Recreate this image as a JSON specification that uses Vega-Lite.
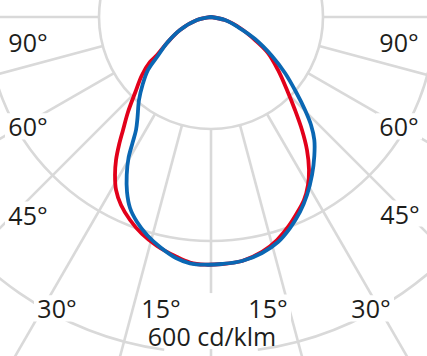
{
  "$schema": "https://vega.github.io/schema/vega-lite/v6.json",
  "width": 427,
  "height": 356,
  "padding": 0,
  "autosize": {"type": "none"},
  "background": "white",
  "config": {"view": {"stroke": null}},
  "datasets": {
    "circles": [
      {"r": 200, "a1": 0, "a2": 360},
      {"r": 400, "a1": 0, "a2": 360},
      {"r": 600, "a1": -172, "a2": 172}
    ],
    "spokes": [
      {"angle": 0, "x1": 0, "y1": -200, "x2": 0, "y2": -493},
      {"angle": 0, "x1": 0, "y1": -591, "x2": 0, "y2": -900},
      {"angle": 15, "x1": 51.8, "y1": -193.2, "x2": 232.9, "y2": -869.3},
      {"angle": -15, "x1": -51.8, "y1": -193.2, "x2": -232.9, "y2": -869.3},
      {"angle": 30, "x1": 100, "y1": -173.2, "x2": 450, "y2": -779.4},
      {"angle": -30, "x1": -100, "y1": -173.2, "x2": -450, "y2": -779.4},
      {"angle": 45, "x1": 141.4, "y1": -141.4, "x2": 636.4, "y2": -636.4},
      {"angle": -45, "x1": -141.4, "y1": -141.4, "x2": -636.4, "y2": -636.4},
      {"angle": 60, "x1": 173.2, "y1": -100, "x2": 779.4, "y2": -450},
      {"angle": -60, "x1": -173.2, "y1": -100, "x2": -779.4, "y2": -450},
      {"angle": 75, "x1": 193.2, "y1": -51.8, "x2": 869.3, "y2": -232.9},
      {"angle": -75, "x1": -193.2, "y1": -51.8, "x2": -869.3, "y2": -232.9},
      {"angle": 90, "x1": 200, "y1": 0, "x2": 900, "y2": 0},
      {"angle": -90, "x1": -200, "y1": 0, "x2": -900, "y2": 0}
    ],
    "red": [
      {"i": 0, "x": 0, "y": 0},
      {"i": 1, "x": 25, "y": -5.4},
      {"i": 2, "x": 51.8, "y": -19.6},
      {"i": 3, "x": 78.6, "y": -41.1},
      {"i": 4, "x": 101.8, "y": -64.3},
      {"i": 5, "x": 119.6, "y": -94.6},
      {"i": 6, "x": 135.7, "y": -130.4},
      {"i": 7, "x": 150, "y": -166.1},
      {"i": 8, "x": 162.5, "y": -201.8},
      {"i": 9, "x": 171.4, "y": -237.5},
      {"i": 10, "x": 175, "y": -273.2},
      {"i": 11, "x": 173.2, "y": -300},
      {"i": 12, "x": 166.1, "y": -326.8},
      {"i": 13, "x": 153.6, "y": -350},
      {"i": 14, "x": 137.5, "y": -375},
      {"i": 15, "x": 117.9, "y": -398.2},
      {"i": 16, "x": 91.1, "y": -419.6},
      {"i": 17, "x": 55.4, "y": -435.7},
      {"i": 18, "x": 19.6, "y": -441.1},
      {"i": 19, "x": -10.7, "y": -442.3},
      {"i": 20, "x": -37.5, "y": -438.5},
      {"i": 21, "x": -64.3, "y": -426.8},
      {"i": 22, "x": -96.4, "y": -408.9},
      {"i": 23, "x": -123.2, "y": -387.5},
      {"i": 24, "x": -144.6, "y": -362.5},
      {"i": 25, "x": -160.7, "y": -335.7},
      {"i": 26, "x": -169.6, "y": -308.9},
      {"i": 27, "x": -171.4, "y": -282.1},
      {"i": 28, "x": -169.6, "y": -255.4},
      {"i": 29, "x": -164.3, "y": -228.6},
      {"i": 30, "x": -157.1, "y": -201.8},
      {"i": 31, "x": -148.2, "y": -169.6},
      {"i": 32, "x": -135.7, "y": -135.7},
      {"i": 33, "x": -123.2, "y": -103.6},
      {"i": 34, "x": -108.9, "y": -80.4},
      {"i": 35, "x": -96.4, "y": -67.9},
      {"i": 36, "x": -78.6, "y": -46.4},
      {"i": 37, "x": -55.4, "y": -23.2},
      {"i": 38, "x": -25, "y": -5.4},
      {"i": 39, "x": 0, "y": 0}
    ],
    "blue": [
      {"i": 0, "x": 0, "y": 0},
      {"i": 1, "x": 25, "y": -5.4},
      {"i": 2, "x": 48.2, "y": -17.9},
      {"i": 3, "x": 78.6, "y": -39.3},
      {"i": 4, "x": 108.9, "y": -69.6},
      {"i": 5, "x": 132.1, "y": -100},
      {"i": 6, "x": 151.8, "y": -133.9},
      {"i": 7, "x": 167.9, "y": -166.1},
      {"i": 8, "x": 178.6, "y": -192.9},
      {"i": 9, "x": 184.5, "y": -219.6},
      {"i": 10, "x": 184.5, "y": -248},
      {"i": 11, "x": 180.4, "y": -282.1},
      {"i": 12, "x": 171.4, "y": -317.9},
      {"i": 13, "x": 158.9, "y": -348.2},
      {"i": 14, "x": 141.1, "y": -376.8},
      {"i": 15, "x": 119.6, "y": -401.8},
      {"i": 16, "x": 91.1, "y": -421.4},
      {"i": 17, "x": 55.4, "y": -435.7},
      {"i": 18, "x": 19.6, "y": -441.1},
      {"i": 19, "x": -10.7, "y": -442.3},
      {"i": 20, "x": -37.5, "y": -439.8},
      {"i": 21, "x": -62.5, "y": -430.4},
      {"i": 22, "x": -91.1, "y": -410.7},
      {"i": 23, "x": -114.3, "y": -389.3},
      {"i": 24, "x": -132.1, "y": -366.1},
      {"i": 25, "x": -144.6, "y": -341.1},
      {"i": 26, "x": -150, "y": -312.5},
      {"i": 27, "x": -150.5, "y": -282.1},
      {"i": 28, "x": -147.3, "y": -251.8},
      {"i": 29, "x": -140.2, "y": -225},
      {"i": 30, "x": -133.9, "y": -201.8},
      {"i": 31, "x": -131.3, "y": -180.4},
      {"i": 32, "x": -128.6, "y": -148.2},
      {"i": 33, "x": -122.3, "y": -121.4},
      {"i": 34, "x": -112.5, "y": -94.6},
      {"i": 35, "x": -96.4, "y": -71.4},
      {"i": 36, "x": -78.6, "y": -46.4},
      {"i": 37, "x": -55.4, "y": -23.2},
      {"i": 38, "x": -25, "y": -5.4},
      {"i": 39, "x": 0, "y": 0}
    ],
    "labels": [
      {"t": "90°", "x": -326.8, "y": -45.5},
      {"t": "90°", "x": 335.7, "y": -45.5},
      {"t": "60°", "x": -326.8, "y": -195.5},
      {"t": "60°", "x": 335.7, "y": -195.5},
      {"t": "45°", "x": -326.8, "y": -352.7},
      {"t": "45°", "x": 337.5, "y": -350.9},
      {"t": "30°", "x": -275, "y": -520.5},
      {"t": "30°", "x": 285.7, "y": -520.5},
      {"t": "15°", "x": -89.3, "y": -518.8},
      {"t": "15°", "x": 101.8, "y": -518.8},
      {"t": "600 cd/klm", "x": 1.8, "y": -569.6}
    ]
  },
  "layer": [
    {
      "data": {"name": "circles"},
      "mark": {"type": "arc", "filled": false, "color": "#d9d9d9", "strokeWidth": 2.6, "clip": true},
      "encoding": {
        "x": {"datum": 0, "type": "quantitative", "scale": {"domain": [-376.79, 385.71], "nice": false, "zero": false}, "axis": null},
        "y": {"datum": 0, "type": "quantitative", "scale": {"domain": [-605.36, 30.36], "nice": false, "zero": false}, "axis": null},
        "theta": {"field": "a1", "type": "quantitative", "stack": null, "scale": {"type": "linear", "domain": [0, 360], "range": [0, 6.283185], "zero": false, "nice": false}},
        "theta2": {"field": "a2"},
        "radius": {"field": "r", "type": "quantitative", "scale": {"type": "linear", "domain": [0, 600], "range": [0, 336], "zero": true, "nice": false}},
        "radius2": {"field": "r"}
      }
    },
    {
      "data": {"name": "spokes"},
      "mark": {"type": "rule", "color": "#d9d9d9", "strokeWidth": 2.6, "clip": true},
      "encoding": {
        "x": {"field": "x1", "type": "quantitative", "scale": {"domain": [-376.79, 385.71], "nice": false, "zero": false}, "axis": null},
        "y": {"field": "y1", "type": "quantitative", "scale": {"domain": [-605.36, 30.36], "nice": false, "zero": false}, "axis": null},
        "x2": {"field": "x2"},
        "y2": {"field": "y2"}
      }
    },
    {
      "data": {"name": "red"},
      "mark": {"type": "line", "color": "#e2001a", "strokeWidth": 3.8, "interpolate": "catmull-rom", "strokeJoin": "round", "strokeCap": "round", "clip": true},
      "encoding": {
        "x": {"field": "x", "type": "quantitative", "scale": {"domain": [-376.79, 385.71], "nice": false, "zero": false}, "axis": null},
        "y": {"field": "y", "type": "quantitative", "scale": {"domain": [-605.36, 30.36], "nice": false, "zero": false}, "axis": null},
        "order": {"field": "i", "type": "quantitative"}
      }
    },
    {
      "data": {"name": "blue"},
      "mark": {"type": "line", "color": "#0a67b3", "strokeWidth": 3.8, "interpolate": "catmull-rom", "strokeJoin": "round", "strokeCap": "round", "clip": true},
      "encoding": {
        "x": {"field": "x", "type": "quantitative", "scale": {"domain": [-376.79, 385.71], "nice": false, "zero": false}, "axis": null},
        "y": {"field": "y", "type": "quantitative", "scale": {"domain": [-605.36, 30.36], "nice": false, "zero": false}, "axis": null},
        "order": {"field": "i", "type": "quantitative"}
      }
    },
    {
      "data": {"name": "labels"},
      "mark": {"type": "point", "shape": "M-1,-0.57L1,-0.57L1,0.57L-1,0.57Z", "size": 2116, "filled": true, "color": "white", "opacity": 1, "strokeWidth": 0},
      "encoding": {
        "x": {"field": "x", "type": "quantitative", "scale": {"domain": [-376.79, 385.71], "nice": false, "zero": false}, "axis": null},
        "y": {"field": "y", "type": "quantitative", "scale": {"domain": [-605.36, 30.36], "nice": false, "zero": false}, "axis": null}
      }
    },
    {
      "data": {"name": "labels"},
      "mark": {"type": "text", "font": "Open Sans", "fontSize": 25, "align": "center", "baseline": "middle", "dy": 2, "color": "#1d1d1b"},
      "encoding": {
        "x": {"field": "x", "type": "quantitative", "scale": {"domain": [-376.79, 385.71], "nice": false, "zero": false}, "axis": null},
        "y": {"field": "y", "type": "quantitative", "scale": {"domain": [-605.36, 30.36], "nice": false, "zero": false}, "axis": null},
        "text": {"field": "t", "type": "nominal"}
      }
    }
  ]
}
